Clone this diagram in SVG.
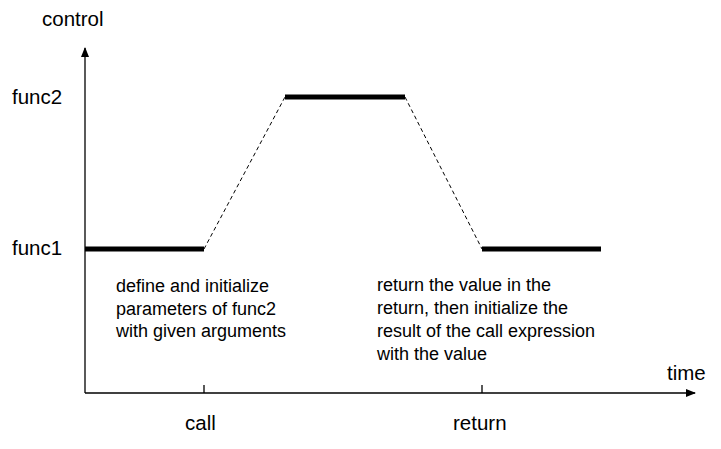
<svg xmlns="http://www.w3.org/2000/svg" width="721" height="449" viewBox="0 0 721 449">
<defs>
<style>
.lbl{font-family:"Liberation Sans",Arial,sans-serif;font-size:20.5px;fill:#000}
.txt{font-family:"Liberation Sans",Arial,sans-serif;font-size:18px;fill:#000}
.axis{stroke:#000;stroke-width:1.3;fill:none}
.bar{stroke:#000;stroke-width:5;fill:none}
.dash{stroke:#000;stroke-width:1;stroke-dasharray:4,3;fill:none}
</style>
<marker id="arr" markerWidth="10" markerHeight="10" refX="9" refY="5" orient="auto" markerUnits="userSpaceOnUse">
<path d="M0,1 L10,5 L0,9 Z" fill="#000"/>
</marker>
</defs>
<g id="axes">
<line class="axis" x1="85" y1="393" x2="85" y2="48" marker-end="url(#arr)"/>
<line class="axis" x1="85" y1="393" x2="695" y2="393" marker-end="url(#arr)"/>
<line class="axis" x1="204" y1="385" x2="204" y2="393"/>
<line class="axis" x1="482" y1="385" x2="482" y2="393"/>
<text class="lbl" x="42" y="26">control</text>
<text class="lbl" x="667" y="380">time</text>
<text class="lbl" x="12" y="104">func2</text>
<text class="lbl" x="12" y="255">func1</text>
<text class="lbl" x="185" y="430">call</text>
<text class="lbl" x="453" y="430">return</text>
</g>
<g id="func1-before"><line class="bar" x1="85" y1="249" x2="204" y2="249"/></g>
<g id="func2-run"><line class="bar" x1="285" y1="97" x2="405" y2="97"/></g>
<g id="func1-after"><line class="bar" x1="482" y1="249" x2="601" y2="249"/></g>
<g id="connectors">
<line class="dash" x1="204" y1="249" x2="285" y2="97"/>
<line class="dash" x1="405" y1="97" x2="482" y2="249"/>
</g>
<g id="note-call">
<text class="txt" x="116" y="292">define and initialize</text>
<text class="txt" x="116" y="315">parameters of func2</text>
<text class="txt" x="116" y="337">with given arguments</text>
</g>
<g id="note-return">
<text class="txt" x="377" y="291">return the value in the</text>
<text class="txt" x="377" y="314">return, then initialize the</text>
<text class="txt" x="377" y="337">result of the call expression</text>
<text class="txt" x="377" y="360">with the value</text>
</g>
</svg>
